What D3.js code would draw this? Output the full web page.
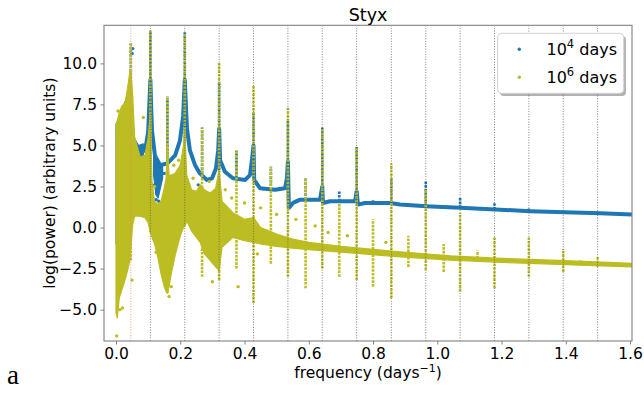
<!DOCTYPE html>
<html><head><meta charset="utf-8">
<script src="https://cdn.jsdelivr.net/npm/d3@7"></script>
<style>body{margin:0;background:#fff} svg{display:block}</style>
</head><body><svg id="c" width="644" height="394"></svg>
<script>
// ---------- data ----------
const titleText = "Styx";
const xTicks = [0.0, 0.2, 0.4, 0.6, 0.8, 1.0, 1.2, 1.4, 1.6];
const yTicks = [-5.0, -2.5, 0.0, 2.5, 5.0, 7.5, 10.0];
const harmonicFreqs = [0.107, 0.214, 0.321, 0.428, 0.535, 0.642, 0.749, 0.857, 0.964, 1.071, 1.178, 1.285, 1.392, 1.499];
const styxFreq = 0.046;

// 10^4 days series (blue)
const blueMass = [ // [freq, low, high] dense region at low frequency
  [0.000, -1.0, 6.3], [0.008, -1.0, 6.6], [0.016, -1.0, 6.0], [0.026, -1.0, 6.5],
  [0.036, 0.0, 6.5], [0.043, 1.0, 7.0], [0.047, 3.0, 7.5], [0.052, 3.5, 6.5],
  [0.058, 4.0, 5.4], [0.070, 4.2, 5.0], [0.085, 4.2, 5.1]
];
const blueLine = [ // [freq, log power] centre of the thick band
  [0.047,4.7],[0.060,4.6],[0.075,4.5],[0.088,4.7],[0.093,5.0],[0.100,5.8],[0.103,7.2],[0.107,9.0],
  [0.110,7.0],[0.112,5.9],[0.121,4.4],[0.137,3.8],[0.159,3.9],[0.184,4.4],[0.199,5.3],[0.209,6.8],
  [0.214,9.0],[0.218,7.2],[0.221,6.0],[0.230,4.7],[0.246,3.8],[0.261,3.3],[0.283,2.9],[0.299,3.0],
  [0.311,3.6],[0.318,4.7],[0.321,6.0],[0.324,4.1],[0.339,3.4],[0.364,3.0],[0.402,2.9],[0.417,3.2],
  [0.423,4.1],[0.428,5.0],[0.430,2.9],[0.448,2.4],[0.495,2.3],[0.526,2.4],[0.532,3.0],[0.535,4.0],
  [0.538,1.2],[0.551,1.5],[0.573,1.7],[0.635,1.7],[0.642,2.5],[0.644,1.5],[0.666,1.6],[0.744,1.6],
  [0.749,2.2],[0.753,1.4],[0.775,1.5],[0.853,1.5],[0.884,1.4],[0.965,1.3],[1.071,1.2],[1.180,1.1],
  [1.289,1.0],[1.398,0.93],[1.507,0.87],[1.606,0.79]
];
const blueSpikes = [ // [freq, low, high]
  [0.046,5.0,11.2],[0.107,5.0,12.0],[0.214,5.0,11.9],[0.321,3.5,8.8],[0.428,3.0,7.0],[0.535,2.5,6.5],
  [0.642,1.7,6.1],[0.749,1.6,4.9],[0.857,1.5,3.0],[0.964,1.3,2.8],[1.071,1.2,1.8],[1.178,1.1,1.5],
  [1.285,1.0,1.2],[0.160,4.0,7.9],[0.268,3.3,6.1],[0.375,3.0,4.7],[0.482,2.3,3.7],[0.590,1.7,3.0],
  [0.695,1.6,2.2],[0.800,1.5,1.7]
];
const blueBlob = [ // [freq, low, high] scattered cluster below the first U
  [0.117, 3.2, 4.4], [0.124, 2.0, 4.0], [0.131, 1.8, 3.8], [0.138, 2.4, 3.8], [0.145, 3.0, 3.9]
];
const blueDots = [
  [0.010,6.6],[0.004,6.0],[0.022,6.2],[0.030,7.6],[0.052,10.9],[0.050,10.6],[0.125,1.7],[0.133,1.6],
  [0.120,2.6],[0.150,3.3],[0.160,3.4],[0.256,2.6],[0.262,2.4]
];

// 10^6 days series (olive)
const oliveMass = [ // [freq, low, high]
  [0.000,-5.2,6.3],[0.004,-5.5,6.5],[0.010,-4.3,7.0],[0.018,-3.8,7.4],[0.028,-3.2,7.6],[0.036,-2.6,8.5],
  [0.043,-2.0,9.5],[0.047,-1.0,9.3],[0.052,0.2,8.0],[0.058,0.7,5.5],[0.075,0.7,4.3],[0.090,0.6,4.4],
  [0.100,0.3,5.5],[0.107,-0.3,7.0],[0.112,-0.6,2.8],[0.120,-1.0,1.6],[0.130,-1.8,1.4],[0.140,-2.8,1.6],
  [0.150,-3.6,2.4],[0.156,-3.9,3.0],[0.160,-4.0,5.0],[0.165,-3.6,3.2],[0.172,-2.8,3.2],[0.184,-1.7,3.3],
  [0.200,-0.5,3.8],[0.210,0.0,5.0],[0.214,0.1,6.0],[0.220,0.4,3.2],[0.235,-0.2,2.3],[0.250,-0.6,2.2],
  [0.262,-0.9,2.6],[0.275,-1.6,2.3],[0.293,-2.0,2.1],[0.310,-2.4,2.4],[0.321,-2.6,3.5],[0.330,-1.2,1.6],
  [0.364,-0.6,0.9],[0.400,-0.8,0.5],[0.428,-0.9,0.6],[0.450,-1.0,0.0],[0.500,-1.15,-0.4],[0.550,-1.25,-0.7],
  [0.600,-1.35,-0.9],[0.700,-1.5,-1.15],[0.884,-1.78,-1.48],[1.040,-1.98,-1.72],[1.200,-2.12,-1.88],
  [1.400,-2.26,-2.02],[1.606,-2.4,-2.18]
];
const oliveSpikes = [
  [0.046,-2.0,11.3],[0.107,-0.3,12.0],[0.214,0.1,11.8],[0.321,-3.2,10.1],[0.428,-4.6,8.7],[0.535,-3.0,7.3],
  [0.642,-2.5,6.0],[0.749,-3.2,4.9],[0.857,-4.3,3.9],[0.964,-2.6,2.3],[1.071,-3.9,0.9],[1.178,-3.7,-0.6],
  [1.285,-3.0,-0.6],[1.392,-2.7,-1.3],[1.499,-2.4,-1.8],[0.160,-4.0,8.0],[0.268,-3.0,6.1],[0.375,-2.5,4.7],
  [0.482,-2.2,3.7],[0.590,-3.7,3.0],[0.695,-3.0,1.5],[0.800,-3.6,0.5],[0.910,-2.4,-0.5],[1.020,-2.7,-1.0],
  [1.125,-2.1,-1.4],[1.230,-2.1,-1.9],[1.445,-2.3,-2.0]
];
const oliveDots = [
  [0.002,-6.6],[0.012,-5.0],[0.020,-4.9],[0.050,-3.2],[0.028,7.5],[0.035,7.4],[0.006,7.1],[0.085,6.7],
  [0.120,2.5],[0.125,-1.5],[0.165,-4.2],[0.172,-3.6],[0.300,-3.3],[0.380,-3.6],[0.440,-1.6],
  [0.180,3.8],[0.195,4.1],[0.240,3.0],[0.290,2.8],[0.340,2.3],[0.360,1.8],[0.400,1.5],[0.450,1.2],
  [0.500,0.8],[0.560,0.5],[0.620,0.1],[0.660,-0.3],[0.720,-0.5],[0.840,-0.9]
];
const legendLabels = [{base:"10", sup:"4", rest:" days"}, {base:"10", sup:"6", rest:" days"}];
const colors = ["#1f77b4", "#bcbd22"];

// ---------- drawing ----------
const svg = d3.select("#c");
const SANS = "DejaVu Sans, sans-serif";
const L = 104, R = 632, T = 25.3, B = 341;
const x = d3.scaleLinear().domain([-0.0374, 1.606]).range([L, R]);
const y = d3.scaleLinear().domain([-6.91, 12.32]).range([B, T]);

svg.append("defs").append("clipPath").attr("id","clip")
  .append("rect").attr("x",L).attr("y",T).attr("width",R-L).attr("height",B-T);
const plot = svg.append("g").attr("clip-path","url(#clip)");
const area = d3.area().x(d=>x(d[0])).y0(d=>y(d[1])).y1(d=>y(d[2]));

function drawSeries(masses, line, spikes, dots, color) {
  const g = plot.append("g");
  masses.forEach(m => g.append("path").datum(m).attr("d", area)
    .attr("fill", color).attr("stroke", color).attr("stroke-width", 1.2).attr("stroke-linejoin","round"));
  if (line) g.append("path").datum(line)
    .attr("d", d3.line().x(d=>x(d[0])).y(d=>y(d[1])))
    .attr("fill","none").attr("stroke", color).attr("stroke-width", 4).attr("stroke-linejoin","round");
  g.selectAll("line.sp").data(spikes).join("line").attr("class","sp")
    .attr("x1", d=>x(d[0])).attr("x2", d=>x(d[0]))
    .attr("y1", d=>y(d[1])).attr("y2", d=>y(d[2]))
    .attr("stroke", color).attr("stroke-width", 2.6).attr("stroke-dasharray", "2.6,1.1");
  g.selectAll("circle").data(dots).join("circle")
    .attr("cx", d=>x(d[0])).attr("cy", d=>y(d[1])).attr("r", 1.7).attr("fill", color);
}
drawSeries([blueMass, blueBlob], blueLine, blueSpikes, blueDots, colors[0]);
drawSeries([oliveMass], null, oliveSpikes, oliveDots, colors[1]);

// vertical reference lines
plot.selectAll("line.h").data(harmonicFreqs).join("line").attr("class","h")
  .attr("x1", d=>x(d)).attr("x2", d=>x(d)).attr("y1", T).attr("y2", B)
  .attr("stroke", "#555").attr("stroke-opacity", 0.75).attr("stroke-width", 1).attr("stroke-dasharray", "1,1.6");
plot.append("line").attr("x1", x(styxFreq)).attr("x2", x(styxFreq)).attr("y1", T).attr("y2", B)
  .attr("stroke", "#f08070").attr("stroke-opacity", 0.8).attr("stroke-width", 1).attr("stroke-dasharray", "1,1.6");

// axes
const fmt = d3.format(".1f");
const xa = svg.append("g").attr("transform", `translate(0,${B})`)
  .call(d3.axisBottom(x).tickValues(xTicks).tickFormat(fmt).tickSize(3.5).tickPadding(3.5));
const ya = svg.append("g").attr("transform", `translate(${L},0)`)
  .call(d3.axisLeft(y).tickValues(yTicks).tickFormat(fmt).tickSize(3.5).tickPadding(3.5));
[xa, ya].forEach(a => {
  a.select(".domain").remove();
  a.selectAll("line").attr("stroke", "#808080");
  a.selectAll("text").attr("font-size", 15.5).style("font-family", SANS).attr("fill", "#000");
});
svg.append("rect").attr("x", L).attr("y", T).attr("width", R-L).attr("height", B-T)
  .attr("fill","none").attr("stroke","#808080").attr("stroke-width",1.1);

// titles
svg.append("text").attr("x", (L+R)/2).attr("y", 21).attr("text-anchor","middle").style("font-family", SANS)
  .attr("font-size", 17.5).text(titleText);
const xl = svg.append("text").attr("x", (L+R)/2).attr("y", 378).attr("text-anchor","middle")
  .style("font-family", SANS).attr("font-size", 15.5);
xl.append("tspan").text("frequency (days");
xl.append("tspan").attr("font-size", 11).attr("dy", -6).text("\u22121");
xl.append("tspan").attr("dy", 6).text(")");
svg.append("text").attr("transform", `translate(55,${(T+B)/2}) rotate(-90)`).attr("text-anchor","middle")
  .style("font-family", SANS).attr("font-size", 15.5).text("log(power) (arbitrary units)");
svg.append("text").attr("x", 7).attr("y", 384).style("font-family","'Liberation Serif', 'DejaVu Serif', serif")
  .attr("font-size", 27).text("a");

// legend
const lg = svg.append("g");
lg.append("rect").attr("x", 500).attr("y", 36).attr("width", 126).attr("height", 60).attr("rx", 4)
  .attr("fill", "#000").attr("fill-opacity", 0.3);
lg.append("rect").attr("x", 497.7).attr("y", 33.3).attr("width", 126).attr("height", 60).attr("rx", 4)
  .attr("fill", "#fff").attr("stroke", "#d3d3d3").attr("stroke-width", 1);
legendLabels.forEach((lab, i) => {
  const yy = 49.3 + i*28;
  lg.append("circle").attr("cx", 519.3).attr("cy", yy).attr("r", 1.7).attr("fill", colors[i]);
  const t = lg.append("text").attr("x", 617).attr("y", yy+6).attr("text-anchor","end")
    .style("font-family", SANS).attr("font-size", 16);
  t.append("tspan").text(lab.base);
  t.append("tspan").attr("font-size", 11.5).attr("dy", -7).text(lab.sup);
  t.append("tspan").attr("dy", 7).text(lab.rest);
});
</script>
</body></html>
